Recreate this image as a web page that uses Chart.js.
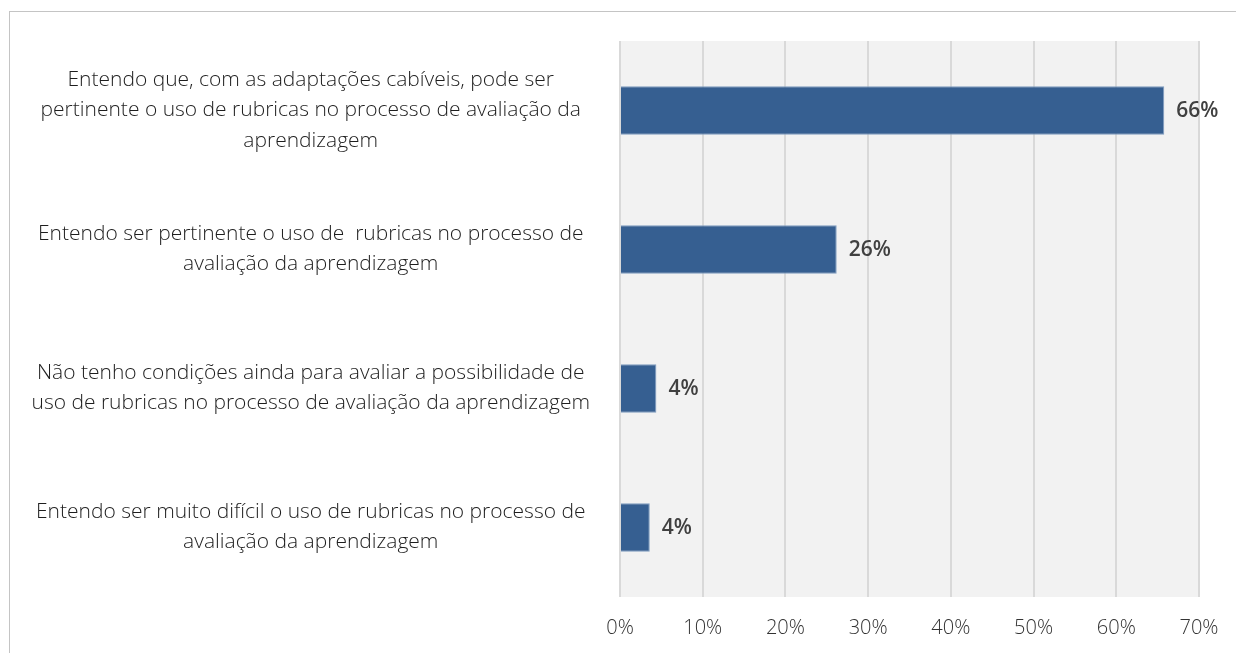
<!DOCTYPE html>
<html><head><meta charset="utf-8">
<script src="https://cdn.jsdelivr.net/npm/chart.js@4"></script>
<style>
html,body{margin:0;padding:0;background:#fff;overflow:hidden;}
#frame{position:absolute;left:9px;top:11px;width:1300px;height:700px;border:1px solid #c4c4c4;box-sizing:border-box;}
#wrap{position:absolute;left:0;top:0;width:1236px;height:653px;}
</style></head>
<body>
<div id="frame"></div>
<div id="wrap"><canvas id="c" width="1236" height="653"></canvas></div>
<script>
const categories = [
  ["Entendo que, com as adaptações cabíveis, pode ser", "pertinente o uso de rubricas no processo de avaliação da", "aprendizagem"],
  ["Entendo ser pertinente o uso de  rubricas no processo de", "avaliação da aprendizagem"],
  ["Não tenho condições ainda para avaliar a possibilidade de", "uso de rubricas no processo de avaliação da aprendizagem"],
  ["Entendo ser muito difícil o uso de rubricas no processo de", "avaliação da aprendizagem"]
];
const values = [65.8, 26.2, 4.4, 3.6];
const valueLabels = ["66%", "26%", "4%", "4%"];
const xTicks = [0, 10, 20, 30, 40, 50, 60, 70];

const FONT = "'Open Sans', 'Noto Sans', sans-serif";

const bgPlugin = {
  id: 'plotBg',
  beforeDraw(chart) {
    const {ctx, chartArea: a} = chart;
    ctx.save();
    ctx.fillStyle = '#f2f2f2';
    ctx.fillRect(a.left, a.top, a.right - a.left, a.bottom - a.top);
    ctx.restore();
  }
};
const labelPlugin = {
  id: 'valLabels',
  afterDatasetsDraw(chart) {
    const {ctx} = chart;
    const meta = chart.getDatasetMeta(0);
    ctx.save();
    ctx.fillStyle = '#404040';
    ctx.font = "600 21px " + FONT;
    ctx.textAlign = 'left';
    ctx.textBaseline = 'middle';
    meta.data.forEach((bar, i) => {
      ctx.fillText(valueLabels[i], bar.x + 12, bar.y + 1);
    });
    ctx.restore();
  }
};

new Chart(document.getElementById('c'), {
  type: 'bar',
  data: {
    labels: categories,
    datasets: [{
      data: values,
      backgroundColor: '#365f91',
      borderColor: '#7f9cc0',
      borderWidth: 1,
      barPercentage: 0.35,
      categoryPercentage: 1
    }]
  },
  options: {
    indexAxis: 'y',
    responsive: false,
    animation: false,
    layout: {padding: {top: 41, right: 37, left: 0, bottom: 0}},
    plugins: {legend: {display: false}, tooltip: {enabled: false}},
    scales: {
      x: {
        min: 0, max: 70,
        afterBuildTicks(scale) { scale.ticks = xTicks.map(v => ({value: v})); },
        afterFit(scale) { scale.height = 56; scale.paddingLeft = 0; scale.paddingRight = 0; },
        grid: {color: '#d9d9d9', lineWidth: 2, drawTicks: false},
        border: {display: false},
        ticks: {
          padding: 19,
          color: '#333333',
          font: {family: FONT, size: 20, weight: 300},
          callback: v => v + '%'
        }
      },
      y: {
        afterFit(scale) { scale.width = 620; scale.paddingTop = 0; scale.paddingBottom = 0; },
        grid: {display: false, drawTicks: false},
        border: {display: false},
        ticks: {
          padding: 30,
          crossAlign: 'center',
          color: '#1e1e1e',
          font: {family: FONT, size: 21, weight: 300, lineHeight: 1.43}
        }
      }
    }
  },
  plugins: [bgPlugin, labelPlugin]
});
</script>
</body></html>
